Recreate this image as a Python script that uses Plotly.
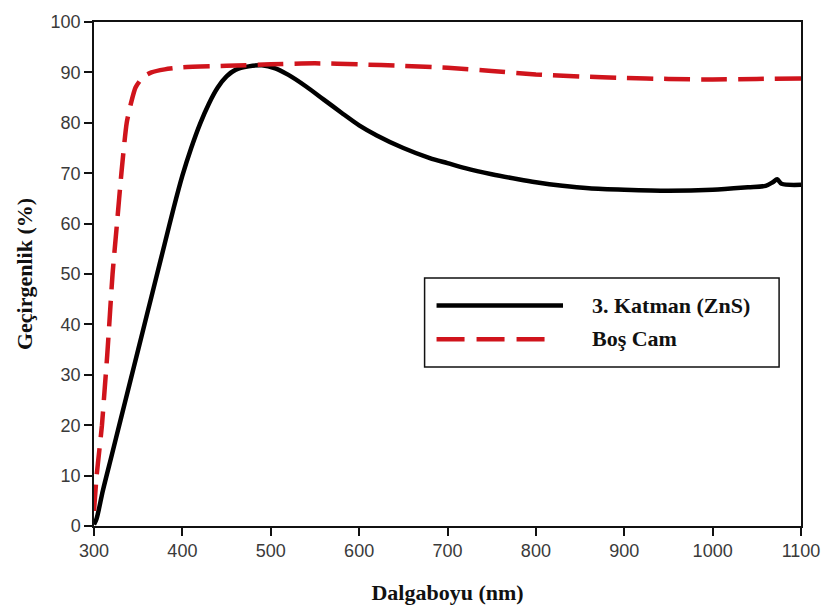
import plotly.graph_objects as go

# ---- data ----
zns_wl = [300, 303, 310, 320, 330, 340, 350, 360, 370, 380, 390, 400, 410, 420, 430, 440,
          450, 460, 475, 490, 505, 520, 540, 560, 580, 600, 620, 650, 680, 700, 720, 750,
          780, 800, 830, 860, 900, 950, 1000, 1040, 1060, 1068, 1073, 1078, 1100]
zns_t = [0.3, 1.5, 7, 14, 21, 28, 35, 42, 49, 56, 63, 69.5, 75, 79.8, 83.8, 87,
         89.2, 90.5, 91.2, 91.4, 90.8, 89.5, 87.2, 84.6, 82, 79.5, 77.5, 75, 73, 72, 71, 69.8,
         68.8, 68.2, 67.5, 67.0, 66.7, 66.5, 66.7, 67.2, 67.5, 68.2, 68.8, 67.9, 67.7]

cam_wl = [300, 303, 306, 309, 312, 315, 318, 321, 326, 331, 337, 342, 347, 355, 365,
          380, 400, 450, 500, 550, 600, 650, 700, 750, 800, 850, 900, 950, 1000, 1050, 1100]
cam_t = [3, 10, 15, 20, 27, 34, 42, 50, 60, 70, 80, 84, 87, 89, 90,
         90.6, 91, 91.3, 91.6, 91.8, 91.6, 91.3, 90.9, 90.3, 89.6, 89.2, 88.9, 88.7, 88.6, 88.7, 88.8]

series_names = ["3. Katman (ZnS)", "Boş Cam"]
x_ticks = [300, 400, 500, 600, 700, 800, 900, 1000, 1100]
y_ticks = [0, 10, 20, 30, 40, 50, 60, 70, 80, 90, 100]

BLACK = "#000000"
RED = "#d0141c"
DASH = "26px,11px"

fig = go.Figure()
fig.add_trace(go.Scatter(x=zns_wl, y=zns_t, mode="lines", name=series_names[0],
                         line=dict(color=BLACK, width=4.5, shape="spline", smoothing=0.8),
                         showlegend=False))
fig.add_trace(go.Scatter(x=cam_wl, y=cam_t, mode="lines", name=series_names[1],
                         line=dict(color=RED, width=4.5, dash=DASH, shape="spline", smoothing=0.6),
                         showlegend=False))

# ---- plot geometry ----
L, R, T, B = 94, 28, 16, 90
W, H = 832, 616
PW, PH = W - L - R, H - T - B


def px(xp):
    return (xp - L) / PW


def py(yp):
    return (H - B - yp) / PH


# ---- legend drawn as box + samples + labels ----
shapes = [
    dict(type="rect", xref="paper", yref="paper", x0=px(426), x1=px(782), y0=py(365), y1=py(275),
         line=dict(color="#111111", width=1.5), fillcolor="white", layer="above"),
    dict(type="line", xref="paper", yref="paper", x0=px(438), x1=px(565), y0=py(303), y1=py(303),
         line=dict(color=BLACK, width=4.5), layer="above"),
    dict(type="line", xref="paper", yref="paper", x0=px(438), x1=px(553), y0=py(337), y1=py(337),
         line=dict(color=RED, width=4.5, dash="28px,12px"), layer="above"),
]
legend_font = dict(family="Liberation Serif", size=22, color="#111111")
annotations = [
    dict(xref="paper", yref="paper", x=px(592), y=py(303), text="<b>" + series_names[0] + "</b>",
         showarrow=False, xanchor="left", yanchor="middle", font=legend_font),
    dict(xref="paper", yref="paper", x=px(592), y=py(336), text="<b>" + series_names[1] + "</b>",
         showarrow=False, xanchor="left", yanchor="middle", font=legend_font),
]

tick_font = dict(family="Liberation Sans", size=18, color="#3a3a3a")
title_font = dict(family="Liberation Serif", size=22, color="#111111")

fig.update_layout(
    width=W, height=H,
    margin=dict(l=L, r=R, t=T, b=B, pad=0),
    paper_bgcolor="white", plot_bgcolor="white",
    shapes=shapes, annotations=annotations,
    xaxis=dict(range=[300, 1100], tickvals=x_ticks, ticktext=[str(v) for v in x_ticks],
               ticks="outside", ticklen=8, tickwidth=1.5, tickcolor="#111111",
               showline=True, linecolor="#111111", linewidth=1.5, mirror=True,
               showgrid=False, zeroline=False, tickfont=tick_font,
               title=dict(text="<b>Dalgaboyu (nm)</b>", font=title_font, standoff=24)),
    yaxis=dict(range=[0, 100], tickvals=y_ticks, ticktext=[str(v) for v in y_ticks],
               ticks="outside", ticklen=8, tickwidth=1.5, tickcolor="#111111",
               showline=True, linecolor="#111111", linewidth=1.5, mirror=True,
               showgrid=False, zeroline=False, tickfont=tick_font,
               title=dict(text="<b>Geçirgenlik (%)</b>", font=title_font, standoff=12)),
)

fig.write_html("out.html")
